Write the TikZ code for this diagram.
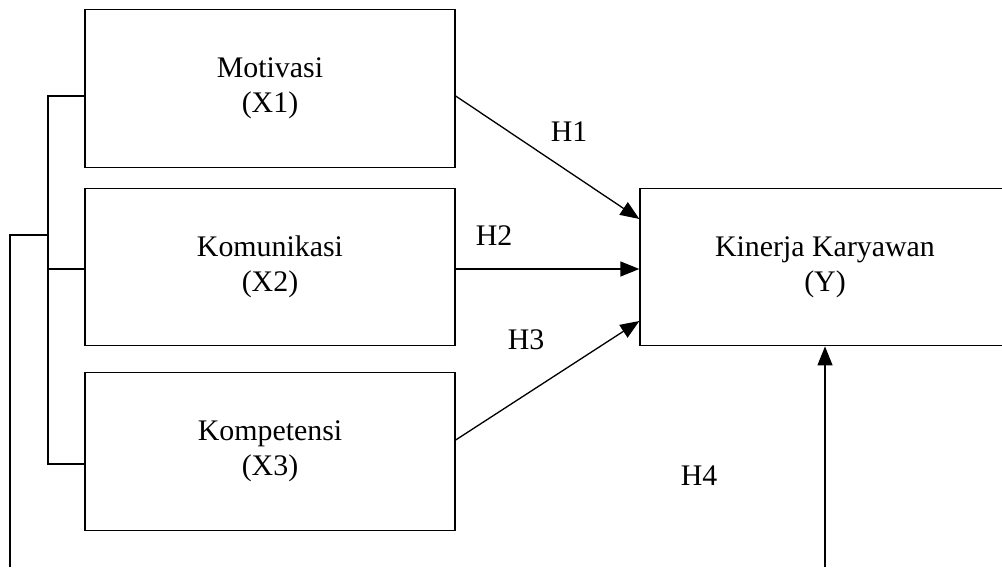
\documentclass[tikz,border=0pt]{standalone}
\usepackage{fontspec}
\setmainfont{Liberation Serif}
\usetikzlibrary{arrows.meta}
\usetikzlibrary{calc}

\tikzset{
    varbox/.style = {draw = black, line width = .75pt, minimum width = 7.4cm, minimum height = 3.15cm, align = center, font = \fontsize{17}{20}\selectfont},
    hyplabel/.style = {font = \fontsize{17}{20}\selectfont},
    hyparrow/.style = {-{Triangle[length = .38cm, width = .3cm]}, line width = .75pt},
    linkline/.style = {line width = .75pt}
}

\begin{document}
\begin{tikzpicture}
                \useasboundingbox (0,0) rectangle (20.04,11.34);
                \clip (0,0) rectangle (20.04,11.34);

                % Draw the variable boxes:
                \node [varbox] (Motivasi)    at (5.4,9.57) {Motivasi\\(X1)};
                \node [varbox] (Komunikasi)  at (5.4,6.0)  {Komunikasi\\(X2)};
                \node [varbox] (Kompetensi)  at (5.4,2.31) {Kompetensi\\(X3)};
                \node [varbox] (Kinerja)     at (16.5,6.0) {Kinerja Karyawan\\(Y)};

                % Draw the bracket on the left:
                \coordinate (BracketTop)    at (0.96,9.42);
                \coordinate (BracketMid)    at (0.96,5.96);
                \coordinate (BracketBottom) at (0.96,2.06);
                \coordinate (BracketOut)    at (0.96,6.64);
                \coordinate (OuterCorner)   at (0.2,6.64);
                \coordinate (OuterBottom)   at (0.2,0);
                \draw [linkline] (Motivasi.west |- BracketTop) -- (BracketTop) -- (BracketBottom) -- (Kompetensi.west |- BracketBottom);
                \draw [linkline] (BracketMid) -- (Komunikasi.west |- BracketMid);
                \draw [linkline] (BracketOut) -- (OuterCorner) -- (OuterBottom);

                % Draw the hypothesis arrows:
                \draw [hyparrow] (Motivasi.east |- BracketTop) -- (Kinerja.west |- 0,6.96);
                \draw [hyparrow] (Komunikasi.east |- BracketMid) -- (Kinerja.west |- BracketMid);
                \draw [hyparrow] (Kompetensi.east |- 0,2.54) -- (Kinerja.west |- 0,4.92);
                \coordinate (SimBottom) at (Kinerja.south |- 0,0);
                \draw [hyparrow] (SimBottom) -- (Kinerja.south);

                % Draw the hypothesis labels:
                \node [hyplabel] (H1) at (11.38,8.7)  {H1};
                \node [hyplabel] (H2) at (9.88,6.62)  {H2};
                \node [hyplabel] (H3) at (10.52,4.54) {H3};
                \node [hyplabel] (H4) at (13.98,1.82) {H4};
\end{tikzpicture}
\end{document}
